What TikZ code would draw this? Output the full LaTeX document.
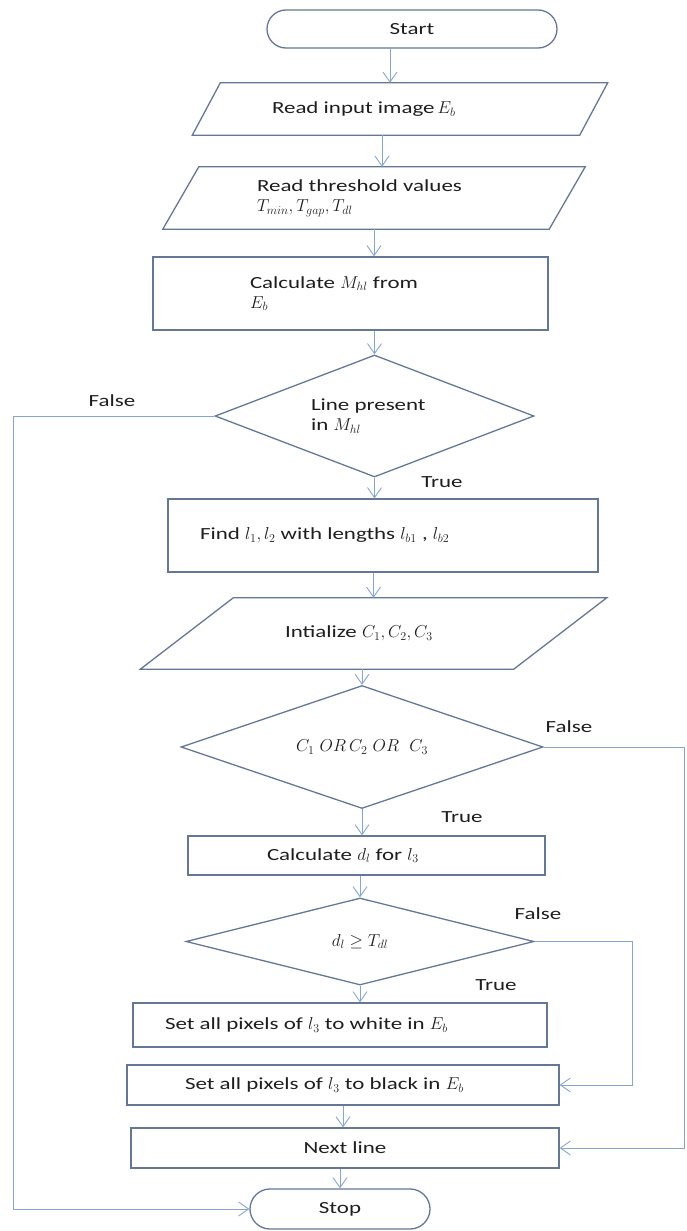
\documentclass[tikz,border=0pt]{standalone}
\usepackage{fontspec}
\setmainfont{Carlito}[FakeStretch=1.35]
\usetikzlibrary{shapes.geometric,arrows.meta}
\definecolor{edgeblue}{RGB}{100,120,150}
\definecolor{flowblue}{RGB}{135,165,210}
\definecolor{inkgray}{RGB}{30,30,30}
\newcommand{\lefttext}[2]{\makebox[#1][l]{#2}}

\begin{document}
\begin{tikzpicture}[x=1pt, y=-1pt,
    every node/.style={font=\fontsize{17}{20}\selectfont, text=inkgray, inner sep=0pt},
    edge/.style={draw=edgeblue, line width=1.3pt},
    box/.style={edge, rectangle},
    term/.style={box, rounded corners=19pt},
    io/.style={rectangle},
    decide/.style={edge, diamond, aspect=#1},
    flow/.style={draw=flowblue, line width=0.9pt, -{Straight Barb[length=10pt,width=14pt]}}]
    \useasboundingbox (0,0) rectangle (686,1231);

    % Main column
    \node[term, minimum width=290pt, minimum height=38pt] (start) at (412,29) {Start};
    \node[io, minimum width=387pt, minimum height=52pt] (readimg) at (400,109) {\lefttext{256pt}{Read input image$\,E_b$}};
    \node[io, minimum width=386pt, minimum height=62pt, align=left] (readthr) at (374,198) {\lefttext{234pt}{Read threshold values}\\ \lefttext{234pt}{$T_{min}, T_{gap}, T_{dl}$}};
    \node[box, minimum width=395pt, minimum height=73pt, align=left] (calcmap) at (350.5,293.5) {\lefttext{201pt}{Calculate $M_{hl}$ from}\\ \lefttext{201pt}{$E_b$}};
    \node[decide=2.6, minimum width=319pt, minimum height=122pt, align=left] (linechk) at (374.5,416) {\lefttext{127pt}{Line present}\\ \lefttext{127pt}{in $M_{hl}$}};
    \node[box, minimum width=430pt, minimum height=73pt] (findln) at (383,535.5) {\lefttext{366pt}{Find $l_1, l_2$ with lengths $l_{b1}$ , $l_{b2}$}};
    \node[io, minimum width=373pt, minimum height=71pt] (initc) at (373.5,633.5) {\lefttext{177pt}{Intialize $C_1, C_2, C_3$}};
    \node[decide=2.9, minimum width=362pt, minimum height=123pt] (orchk) at (362,747) {$C_1\ OR\,C_2\ OR\ \ C_3$};
    \node[box, minimum width=357pt, minimum height=39pt] (calcdl) at (366.5,855.5) {\lefttext{199pt}{Calculate $d_l$ for $l_3$}};
    \node[decide=4, minimum width=348pt, minimum height=87pt] (distchk) at (360,941.5) {$d_l \geq T_{dl}$};
    \node[box, minimum width=414pt, minimum height=44pt] (setwhite) at (340,1025) {\lefttext{350pt}{Set all pixels of $l_3$ to white in $E_b$}};
    \node[box, minimum width=432pt, minimum height=40pt] (setblack) at (343,1085) {\lefttext{316pt}{Set all pixels of $l_3$ to black in $E_b$}};
    \node[box, minimum width=428pt, minimum height=40pt] (nextln) at (345,1148) {Next line};
    \node[term, minimum width=180pt, minimum height=40pt, rounded corners=20pt] (stop) at (340,1209) {Stop};

    % Slanted outlines of the input boxes
    \foreach \n/\s in {readimg/14, readthr/18, initc/46.5}
        \draw[edge] ([xshift=\s pt]\n.north west) -- ([xshift=\s pt]\n.north east) -- ([xshift=-\s pt]\n.south east) -- ([xshift=-\s pt]\n.south west) -- cycle;

    % Branch labels
    \node (falseA) at (112,401) {False};
    \node (trueA) at (442,482) {True};
    \node (falseB) at (569,727) {False};
    \node (trueB) at (462,817) {True};
    \node (falseC) at (538,914) {False};
    \node (trueC) at (496,985) {True};

    % Rails for the side loops
    \coordinate (leftrail) at (13,0);
    \coordinate (rightrail) at (684,0);
    \coordinate (innerrail) at (632,0);

    % Down arrows
    \draw[flow] ([xshift=-22pt]start.south) -- ([xshift=-22pt]start.south |- readimg.north);
    \draw[flow] ([xshift=8pt]readthr.south |- readimg.south) -- ([xshift=8pt]readthr.north);
    \draw[flow] (readthr.south) -- (readthr.south |- calcmap.north);
    \draw[flow] (calcmap.south -| linechk.north) -- (linechk.north);
    \draw[flow] (linechk.south) -- (linechk.south |- findln.north);
    \draw[flow] (initc.north |- findln.south) -- (initc.north);
    \draw[flow] (orchk.north |- initc.south) -- (orchk.north);
    \draw[flow] (orchk.south) -- (orchk.south |- calcdl.north);
    \draw[flow] (calcdl.south -| distchk.north) -- (distchk.north);
    \draw[flow] (distchk.south) -- (distchk.south |- setwhite.north);
    \draw[flow] (setblack.south) -- (setblack.south |- nextln.north);
    \draw[flow] (nextln.south -| stop.north) -- (stop.north);

    % False branches
    \draw[flow] (linechk.west) -- (linechk.west -| leftrail) |- (stop.west);
    \draw[flow] (orchk.east) -- (orchk.east -| rightrail) |- (nextln.east);
    \draw[flow] (distchk.east) -- (distchk.east -| innerrail) |- (setblack.east);
\end{tikzpicture}
\end{document}
